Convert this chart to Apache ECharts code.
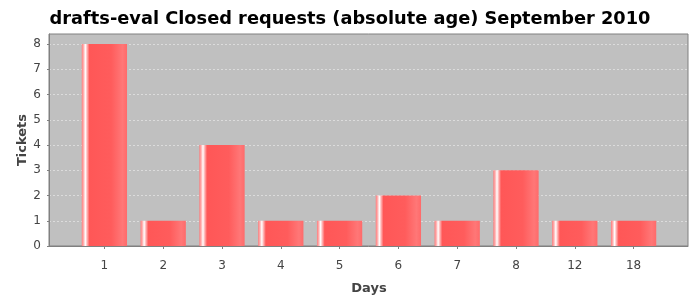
<!DOCTYPE html>
<html>
<head>
<meta charset="utf-8">
<script src="https://cdn.jsdelivr.net/npm/echarts@6/dist/echarts.min.js"></script>
<style>
html,body{margin:0;padding:0;background:#fff;}
#chart{width:700px;height:300px;}
</style>
</head>
<body>
<div id="chart"></div>
<script>
var titleText = 'drafts-eval Closed requests (absolute age) September 2010';
var categories = ['1', '2', '3', '4', '5', '6', '7', '8', '12', '18'];
var tickets = [8, 1, 4, 1, 1, 2, 1, 3, 1, 1];
var yTicks = [0, 1, 2, 3, 4, 5, 6, 7, 8];
var yMax = 8.4;

var chart = echarts.init(document.getElementById('chart'), null, {renderer: 'canvas'});
var barGradient = new echarts.graphic.LinearGradient(0, 0, 1, 0, [
  {offset: 0, color: '#ff7a7a'},
  {offset: 0.04, color: '#ffb0b0'},
  {offset: 0.08, color: '#ffffff'},
  {offset: 0.12, color: '#ffb0b0'},
  {offset: 0.17, color: '#ff5757'},
  {offset: 0.65, color: '#ff5c5c'},
  {offset: 0.9, color: '#ff7777'},
  {offset: 1, color: '#ff6a6a'}
]);
var font = 'DejaVu Sans';
chart.setOption({
  animation: false,
  backgroundColor: '#ffffff',
  title: {
    text: titleText,
    left: 'center',
    top: 5,
    textStyle: {fontFamily: font, fontWeight: 'bold', fontSize: 17.8, color: '#000'}
  },
  grid: [
    {left: 49, right: 12, top: 34, bottom: 54, show: true, backgroundColor: '#c0c0c0', borderColor: '#808080', borderWidth: 1},
    {left: 75, right: 37, top: 34, bottom: 54}
  ],
  xAxis: [
    {gridIndex: 0, type: 'value', min: 0, max: 1, offset: 5,
     axisLine: {show: true, lineStyle: {color: '#808080', width: 1}},
     axisTick: {show: false}, axisLabel: {show: false}, splitLine: {show: false}},
    {gridIndex: 1, type: 'category', data: categories, offset: 5,
     axisLine: {show: false},
     axisTick: {show: true, alignWithLabel: true, length: 3, lineStyle: {color: '#808080'}},
     axisLabel: {fontFamily: font, fontSize: 12, color: '#444', margin: 9},
     name: 'Days', nameLocation: 'middle', nameGap: 31, nameMoveOverlap: false,
     nameTextStyle: {fontFamily: font, fontWeight: 'bold', fontSize: 13, color: '#444'}},
  ],
  yAxis: [
    {gridIndex: 0, type: 'value', min: 0, max: yMax, interval: 1, offset: 3,
     axisLine: {show: true, lineStyle: {color: '#808080', width: 1}},
     axisTick: {show: true, length: 2, customValues: yTicks, lineStyle: {color: '#808080'}},
     axisLabel: {customValues: yTicks, fontFamily: font, fontSize: 12, color: '#444', margin: 5},
     splitLine: {show: true, lineStyle: {color: '#dcdcdc', type: [2, 2], width: 1}},
     name: 'Tickets', nameLocation: 'middle', nameGap: 17, nameMoveOverlap: false,
     nameTextStyle: {fontFamily: font, fontWeight: 'bold', fontSize: 13, color: '#444'}},
    {gridIndex: 1, type: 'value', min: 0, max: yMax, show: false, splitLine: {show: false}}
  ],
  series: [{
    type: 'bar',
    xAxisIndex: 1, yAxisIndex: 1,
    data: tickets,
    barWidth: '77%',
    itemStyle: {color: barGradient}
  }]
});
</script>
</body>
</html>
